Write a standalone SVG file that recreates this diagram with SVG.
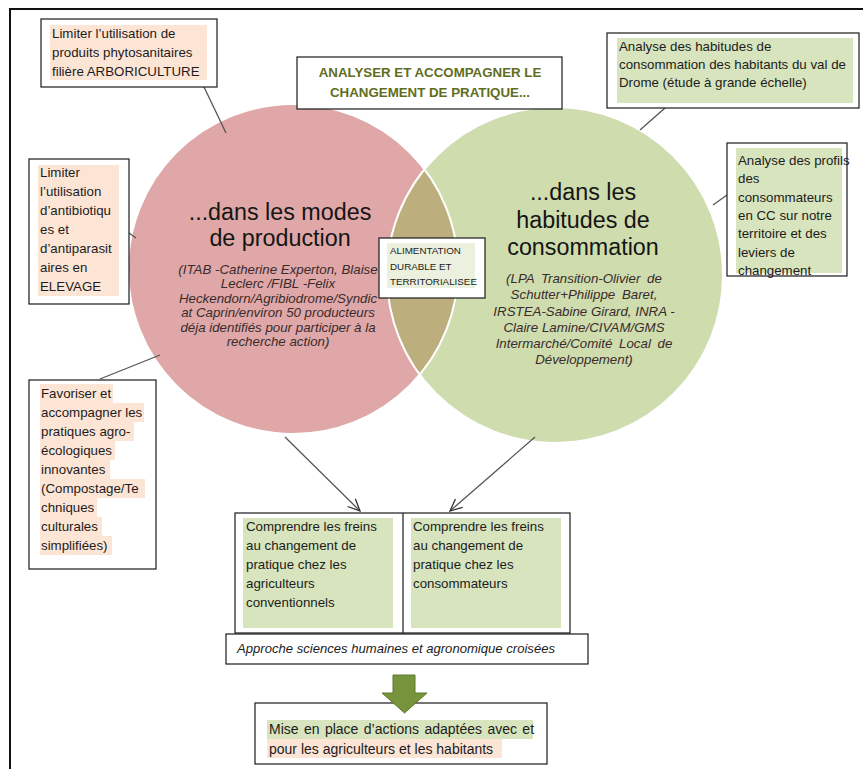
<svg xmlns="http://www.w3.org/2000/svg" width="863" height="769" viewBox="0 0 863 769">
<style>
text{font-family:"Liberation Sans",Arial,sans-serif;fill:#1c1c1c}
.t{font-size:13.3px}
.box{fill:#fff;stroke:#1a1a1a;stroke-width:1.2}
.peach{fill:#fde5d6}
.lg{fill:#d7e4bd}
.big{font-size:23.3px;text-anchor:middle;fill:#151515}
.it{font-size:13.3px;font-style:italic;fill:#3a2b2b;text-anchor:middle}
.ln{stroke:#555;stroke-width:1.3;fill:none}
.ttl{font-size:13.3px;font-weight:bold;fill:#5f6d1c;text-anchor:middle}
.sm{font-size:9.8px}
</style>
<defs>
<marker id="ah" viewBox="0 0 14 14" refX="13" refY="7" markerWidth="14" markerHeight="14" markerUnits="userSpaceOnUse" orient="auto"><path d="M1,1.5 L13,7 L1,12.5" fill="none" stroke="#333" stroke-width="1.3"/></marker>
<clipPath id="cpink"><circle cx="293" cy="269" r="165"/></clipPath>
</defs>

<path d="M10,769 V9 H863" fill="none" stroke="#111" stroke-width="2"/>

<g id="circles">
<circle cx="293" cy="269" r="165" fill="#dfa7a7"/>
<circle cx="555" cy="275" r="168" fill="#cedcae"/>
<circle cx="555" cy="275" r="168" fill="#bdae7d" clip-path="url(#cpink)"/>
<circle cx="293" cy="269" r="165" fill="none" stroke="#fff" stroke-width="2"/>
<circle cx="555" cy="275" r="168" fill="none" stroke="#fff" stroke-width="2"/>
</g>

<g id="connectors">
<line class="ln" x1="204" y1="87" x2="226" y2="133"/>
<line class="ln" x1="665" y1="108" x2="640" y2="130"/>
<line class="ln" x1="727" y1="195" x2="713" y2="205"/>
<line class="ln" x1="129" y1="233" x2="136" y2="238"/>
<line class="ln" x1="100" y1="379" x2="160" y2="355"/>
<line class="ln" x1="285" y1="437" x2="360" y2="511" marker-end="url(#ah)"/>
<line class="ln" x1="535" y1="437" x2="450" y2="511" marker-end="url(#ah)"/>
</g>

<g id="production">
<text class="big" x="280" y="220">...dans les modes</text>
<text class="big" x="280" y="246">de production</text>
<text class="it" x="278" y="273.5">(ITAB -Catherine Experton, Blaise</text>
<text class="it" x="278" y="288">Leclerc /FIBL -Felix</text>
<text class="it" x="278" y="302.5">Heckendorn/Agribiodrome/Syndic</text>
<text class="it" x="278" y="317">at Caprin/environ 50 producteurs</text>
<text class="it" x="278" y="331.5">déja identifiés pour participer à la</text>
<text class="it" x="278" y="346">recherche action)</text>
</g>

<g id="consommation">
<text class="big" x="583" y="200">...dans les</text>
<text class="big" x="583" y="227.5">habitudes de</text>
<text class="big" x="583" y="255">consommation</text>
<text class="it" x="584" y="282.5" word-spacing="3">(LPA Transition-Olivier de</text>
<text class="it" x="584" y="299" word-spacing="3">Schutter+Philippe Baret,</text>
<text class="it" x="584" y="315.5">IRSTEA-Sabine Girard, INRA -</text>
<text class="it" x="584" y="331.5">Claire Lamine/CIVAM/GMS</text>
<text class="it" x="584" y="347.5" word-spacing="3">Intermarché/Comité Local de</text>
<text class="it" x="584" y="364">Développement)</text>
</g>

<g id="alimentation">
<rect class="box" x="379" y="238" width="106" height="60"/>
<rect x="387" y="243" width="88" height="45" fill="#ebf1de"/>
<text class="sm" x="390" y="254">ALIMENTATION</text>
<text class="sm" x="390" y="269.5">DURABLE ET</text>
<text class="sm" x="390" y="285">TERRITORIALISEE</text>
</g>

<g id="title">
<rect class="box" x="297" y="57" width="265" height="52"/>
<text class="ttl" x="430" y="77">ANALYSER ET ACCOMPAGNER LE</text>
<text class="ttl" x="430" y="97">CHANGEMENT DE PRATIQUE...</text>
</g>

<g id="arboriculture">
<rect class="box" x="41" y="19" width="176" height="68"/>
<rect class="peach" x="50" y="25" width="157" height="55"/>
<text class="t" x="52" y="38">Limiter l’utilisation de</text>
<text class="t" x="52" y="57">produits phytosanitaires</text>
<text class="t" x="52" y="76">filière ARBORICULTURE</text>
</g>

<g id="habitudes">
<rect class="box" x="607" y="33" width="252" height="75"/>
<rect class="lg" x="617" y="38" width="236" height="65"/>
<text class="t" x="619" y="51">Analyse des habitudes de</text>
<text class="t" x="619" y="69">consommation des habitants du val de</text>
<text class="t" x="619" y="87">Drome (étude à grande échelle)</text>
</g>

<g id="profils">
<rect class="box" x="727" y="143" width="120" height="133"/>
<rect class="lg" x="736" y="148" width="106" height="125"/>
<text class="t" x="738" y="165">Analyse des profils</text>
<text class="t" x="738" y="183.3">des</text>
<text class="t" x="738" y="201.6">consommateurs</text>
<text class="t" x="738" y="219.9">en CC sur notre</text>
<text class="t" x="738" y="238.2">territoire et des</text>
<text class="t" x="738" y="256.5">leviers de</text>
<text class="t" x="738" y="274.8">changement</text>
</g>

<g id="elevage">
<rect class="box" x="29" y="159" width="100" height="145"/>
<rect class="peach" x="38" y="165" width="81" height="131"/>
<text class="t" x="40" y="177.3">Limiter</text>
<text class="t" x="40" y="196.3">l’utilisation</text>
<text class="t" x="40" y="215.3">d’antibiotiqu</text>
<text class="t" x="40" y="234.3">es et</text>
<text class="t" x="40" y="253.3">d’antiparasit</text>
<text class="t" x="40" y="272.3">aires en</text>
<text class="t" x="40" y="291.3">ELEVAGE</text>
</g>

<g id="agroecologie">
<rect class="box" x="29" y="380" width="127" height="189"/>
<rect class="peach" x="40" y="384" width="73" height="19"/>
<rect class="peach" x="40" y="403" width="104" height="19"/>
<rect class="peach" x="40" y="422" width="94" height="19"/>
<rect class="peach" x="40" y="441" width="75" height="19"/>
<rect class="peach" x="40" y="460" width="70" height="19"/>
<rect class="peach" x="40" y="479" width="105" height="19"/>
<rect class="peach" x="40" y="498" width="57" height="19"/>
<rect class="peach" x="40" y="517" width="62" height="19"/>
<rect class="peach" x="40" y="536" width="72" height="19"/>
<text class="t" x="41" y="398.3">Favoriser et</text>
<text class="t" x="41" y="417.3">accompagner les</text>
<text class="t" x="41" y="436.3">pratiques agro-</text>
<text class="t" x="41" y="455.3">écologiques</text>
<text class="t" x="41" y="474.3">innovantes</text>
<text class="t" x="41" y="493.3">(Compostage/Te</text>
<text class="t" x="41" y="512.3">chniques</text>
<text class="t" x="41" y="531.3">culturales</text>
<text class="t" x="41" y="550.3">simplifiées)</text>
</g>

<g id="freins">
<rect class="box" x="235" y="513" width="335" height="120"/>
<line x1="403" y1="513" x2="403" y2="633" stroke="#1a1a1a" stroke-width="1.2"/>
<rect class="lg" x="243" y="518" width="150" height="110"/>
<rect class="lg" x="411" y="518" width="150" height="110"/>
<text class="t" x="246" y="531">Comprendre les freins</text>
<text class="t" x="246" y="550">au changement de</text>
<text class="t" x="246" y="569">pratique chez les</text>
<text class="t" x="246" y="587.7">agriculteurs</text>
<text class="t" x="246" y="606.7">conventionnels</text>
<text class="t" x="413" y="531">Comprendre les freins</text>
<text class="t" x="413" y="550">au changement de</text>
<text class="t" x="413" y="569">pratique chez les</text>
<text class="t" x="413" y="587.7">consommateurs</text>
</g>

<g id="approche">
<rect class="box" x="226" y="634" width="362" height="30"/>
<text x="237" y="652.5" font-size="13px" font-style="italic" textLength="318" lengthAdjust="spacingAndGlyphs">Approche sciences humaines et agronomique croisées</text>
</g>

<g id="actions">
<rect class="box" x="255" y="703" width="292" height="61"/>
<rect class="lg" x="267" y="720" width="266" height="19"/>
<rect class="peach" x="267" y="739" width="235" height="19"/>
<text x="269" y="734" font-size="14px" word-spacing="1.5">Mise en place d’actions adaptées avec et</text>
<text x="269" y="753.5" font-size="14px">pour  les agriculteurs et les habitants</text>
</g>

<g id="green-arrow">
<path d="M393,675 H415 V693 H427 L404.5,713 L382,693 H393 Z" fill="#77933c" stroke="#5b7a2a" stroke-width="1"/>
</g>
</svg>
